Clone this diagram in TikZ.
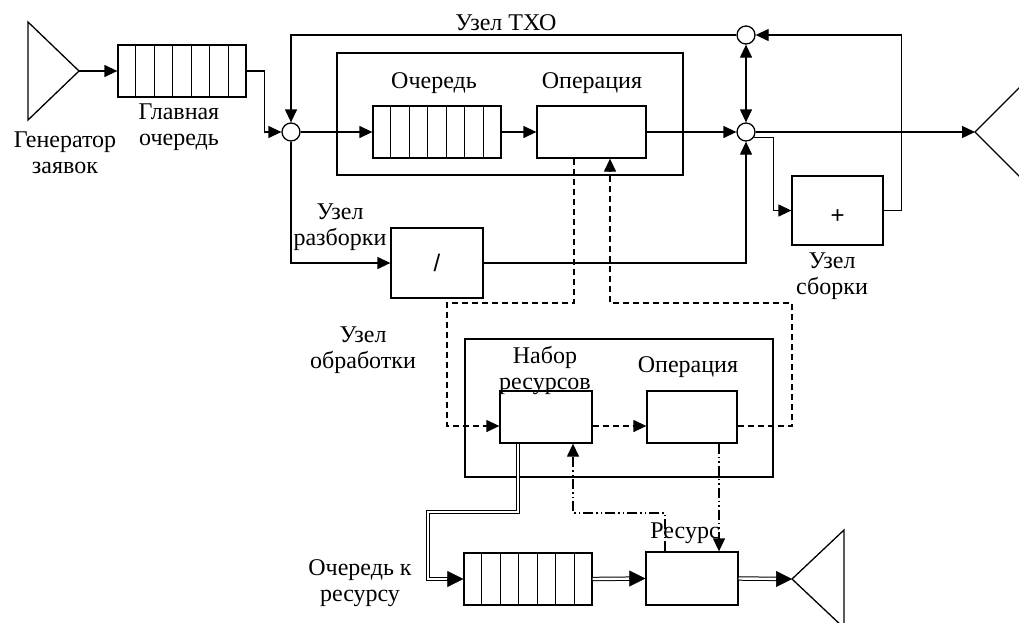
\documentclass[tikz,border=0pt]{standalone}
\usepackage{fontspec}
\setmainfont{Liberation Serif}
\newfontfamily\arialfont{Liberation Sans}
\usetikzlibrary{arrows.meta,calc}

% seven cells of a queue
\newcommand\qcells[1]{%
  \foreach \i in {1,...,6}
    \draw ($(#1.north west)!\i/7!(#1.north east)$) -- ($(#1.south west)!\i/7!(#1.south east)$);}

\begin{document}
\begin{tikzpicture}[x=1pt, y=-1pt, line width=1.3pt,
  >={Triangle[length=13pt,width=12pt]},
  blk/.style={draw, rectangle, inner sep=0pt},
  que/.style={blk, minimum width=128pt, minimum height=52pt},
  jn/.style={draw, circle, fill=white, inner sep=0pt, minimum size=18pt},
  lbl/.style={font=\fontsize{24}{26}\selectfont, align=center, inner sep=0pt},
  sgn/.style={font=\arialfont\fontsize{24}{26}\selectfont},
  dsh/.style={dash pattern=on 6pt off 4pt},
  dsd/.style={dash pattern=on 10pt off 3pt on 1.5pt off 3pt on 1.5pt off 3pt},
  dbl/.style={double, double distance=2.4pt, line width=1pt, shorten >=15pt},
  dtip/.style={-{Triangle[length=16pt,width=16pt]}, line width=0.5pt}]
\useasboundingbox (0,0) rectangle (1019,622);
\clip (0,0) rectangle (1019,622);

% Sources and sinks
\coordinate (gen) at (79,71);
\draw (gen) -- (28,22) -- (28,120) -- cycle;
\coordinate (out) at (975,132);
\draw (out) -- (1026,81) -- (1026,183) -- cycle;
\coordinate (out2) at (792,579);
\draw (out2) -- (844,530) -- (844,628) -- cycle;

% Blocks
\node[que] (mq) at (182,71) {};
\qcells{mq}
\node[blk, minimum width=346pt, minimum height=122pt] (txo) at (510,114) {};
\node[que] (iq) at (437,132) {};
\qcells{iq}
\node[blk, minimum width=109pt, minimum height=52pt] (op) at (591.5,132) {};
\node[jn] (c1) at (291,132) {};
\node[jn] (top) at (746,35) {};
\node[jn] (mid) at (746,132) {};
\node[blk, sgn, minimum width=92pt, minimum height=70pt] (dis) at (437,263) {/};
\node[blk, sgn, text height=26pt, text depth=0pt, minimum width=91pt, minimum height=69pt] (asm) at (837.5,210.5) {+};
\node[blk, minimum width=308pt, minimum height=138pt] (proc) at (619,408) {};
\node[blk, minimum width=92pt, minimum height=52pt] (rs) at (546,417) {};
\node[blk, minimum width=90pt, minimum height=52pt] (po) at (692,417) {};
\node[que] (rq) at (528,579) {};
\qcells{rq}
\node[blk, minimum width=92pt, minimum height=53pt] (rb) at (692,578.5) {};

% Labels
\node[lbl] (tgen) at (65,153) {Генератор\\заявок};
\node[lbl] (tmq) at (179,127) {Главная\\очередь};
\node[lbl, anchor=base] (ttxo) at (506,30) {Узел ТХО};
\node[lbl, anchor=base] (tiq) at (434,88) {Очередь};
\node[lbl, anchor=base] (top1) at (592,88) {Операция};
\node[lbl] (tdis) at (340,227) {Узел\\разборки};
\node[lbl] (tasm) at (832,276) {Узел\\сборки};
\node[lbl] (tproc) at (363,350) {Узел\\обработки};
\node[lbl] (trs) at (545,370) {Набор\\ресурсов};
\node[lbl, anchor=base] (tpo) at (688,372) {Операция};
\node[lbl, anchor=base] (trb) at (685,538) {Ресурс};
\node[lbl] (trq) at (360,583) {Очередь к\\ресурсу};

% Main flow
\draw[->] (gen) -- (mq.west);
\draw[->] (mq.east) -- ++(18,0) |- (c1.west);
\draw[->] (c1.east) -- (iq.west);
\draw[->] (iq.east) -- (op.west);
\draw[->] (op.east) -- (mid.west);
\draw[->] (mid.east) -- (out);
\draw[->] (top.west) -| (c1.north);
\draw[<->] (top.south) -- (mid.north);
\draw[->] (mid.-35) -| ([xshift=-18pt]asm.west) -- (asm.west);
\draw[->] (asm.east) -- ++(18,0) |- (top.east);
\draw[->] (c1.south) |- (dis.west);
\draw[->] (dis.east) -| (mid.south);

% Processing node
\coordinate (d1) at (447,303);
\coordinate (d2) at (792,303);
\draw[dsh,->] ([xshift=-17.5pt]op.south) |- (d1) |- ([yshift=-9pt]rs.west);
\draw[dsh,->] ([yshift=-9pt]rs.east) -- ([yshift=-9pt]po.west);
\draw[dsh,->] ([yshift=-9pt]po.east) -| (d2) -| ([xshift=18.5pt]op.south);

% Resource
\coordinate (d3) at (573,513);
\draw[dsd,->] ([xshift=27pt]po.south) -- ([xshift=27pt]rb.north);
\draw[dsd,->] ([xshift=-27pt]rb.north) |- (d3) -- ([xshift=27pt]rs.south);
\coordinate (d4) at (428,512);
\draw[dbl] ([xshift=-28pt]rs.south) |- (d4) |- (rq.west);
\draw[dtip] ([xshift=-16pt]rq.west) -- (rq.west);
\draw[dbl] (rq.east) -- (rb.west);
\draw[dtip] ([xshift=-16pt]rb.west) -- (rb.west);
\draw[dbl] (rb.east) -- (out2);
\draw[dtip] ([xshift=-16pt]out2) -- (out2);

\end{tikzpicture}
\end{document}
